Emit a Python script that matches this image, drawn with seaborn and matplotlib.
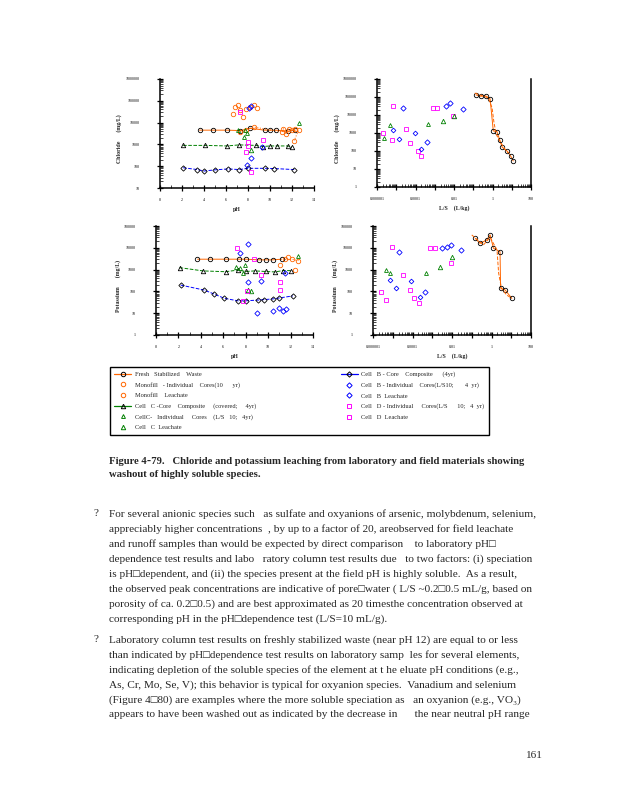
import numpy as np
import pandas as pd
import matplotlib
matplotlib.use("Agg")
import matplotlib.pyplot as plt
from matplotlib.lines import Line2D
from matplotlib.ticker import LogLocator, MultipleLocator, NullFormatter
import seaborn as sns

# ---------------- DATA ----------------
# Chloride vs pH
cl_fsw_ph = [3.6, 4.8, 6.1, 7.3, 8.2, 9.5, 10.0, 10.5, 11.6, 12.3]
cl_fsw = [4500, 4500, 4500, 4300, 5500, 4500, 4500, 4500, 4000, 4500]
cl_mono_cores_ph = [6.6, 6.85, 7.1, 7.3, 7.5, 7.8, 8.2, 8.55, 8.8]
cl_mono_cores = [26000, 50000, 63000, 37000, 18000, 40000, 50000, 63000, 45000]
cl_mono_leach_ph = [7.3, 7.8, 8.5, 11.06, 11.2, 11.45, 11.7, 12.0, 12.3, 12.6, 12.2]
cl_mono_leach = [3700, 4500, 6300, 3700, 5300, 3100, 5300, 4500, 5300, 4500, 1500]
cl_cC_comp_ph = [2.1, 4.1, 6.1, 7.2, 8.7, 9.4, 10.0, 10.6, 11.6, 12.0]
cl_cC_comp = [900, 900, 850, 950, 900, 800, 850, 850, 850, 750]
cl_cC_cores_ph = [7.06, 7.7, 7.9, 7.6, 12.6]
cl_cC_cores = [4500, 4800, 3300, 2300, 9600]
cl_cC_leach_ph = [8.3]
cl_cC_leach = [530]
cl_cB_comp_ph = [2.1, 3.4, 4.0, 5.0, 6.2, 7.2, 8.0, 9.5, 10.4, 12.2]
cl_cB_comp = [85, 70, 60, 68, 75, 70, 80, 80, 78, 70]
cl_cB_cores_ph = [8.1, 8.3, 9.3, 8.3]
cl_cB_cores = [49000, 56000, 760, 240]
cl_cB_leach_ph = [7.9]
cl_cB_leach = [115]
cl_cD_cores_ph = [7.3, 8.0, 8.0, 9.4, 7.8]
cl_cD_cores = [31000, 1300, 810, 1660, 450]
cl_cD_leach_ph = [8.3]
cl_cD_leach = [53]

# Chloride vs L/S
cl_fsw_ls = [0.14, 0.25, 0.45, 0.75, 1.1, 1.7, 2.4, 3.2, 6.0, 9.0, 12.0]
cl_fsw_v = [130000, 110000, 115000, 80000, 1300, 1200, 400, 160, 95, 50, 28]
cl_mono_ls = [0.12, 0.6, 0.95, 1.2, 1.6, 2.4, 4.6, 6.6]
cl_mono_v = [165000, 90000, 25000, 3600, 800, 350, 120, 77]
cl_cD_cores_ls = [6.8e-6, 3.2e-5, 8.3e-4, 1.35e-3, 8.5e-3]
cl_cD_cores_v = [30000, 1700, 25000, 25000, 8500]
cl_cD_leach_ls = [2e-6, 6.3e-6, 5e-5, 1.4e-4, 2e-4]
cl_cD_leach_v = [1000, 430, 280, 95, 50]
cl_cB_cores_ls = [2.3e-5, 3.8e-3, 6.2e-3, 0.031, 4.1e-4]
cl_cB_cores_v = [24500, 30000, 47000, 21500, 300]
cl_cB_leach_ls = [6.8e-6, 1.4e-5, 9.3e-5, 2.0e-4]
cl_cB_leach_v = [1540, 490, 1000, 130]
cl_cC_cores_ls = [4.6e-6, 2.2e-6, 4.5e-4]
cl_cC_cores_v = [2900, 530, 3300]
cl_cC_leach_ls = [2.6e-3, 0.01]
cl_cC_leach_v = [4500, 9100]

# Potassium vs pH
k_fsw_ph = [3.7, 4.8, 6.2, 7.4, 8.0, 9.2, 9.8, 10.4, 11.2]
k_fsw = [3000, 3000, 3000, 3000, 3000, 2800, 2800, 2800, 3000]
k_mono_cores_ph = [11.04, 11.8, 12.4]
k_mono_cores = [1620, 3650, 960]
k_mono_leach_ph = [11.5, 12.1, 12.7]
k_mono_leach = [2950, 3000, 2570]
k_cC_comp_ph = [2.1, 4.2, 6.2, 7.3, 8.0, 8.8, 9.8, 10.6, 11.3, 12.0]
k_cC_comp = [1230, 870, 800, 950, 820, 870, 820, 780, 900, 900]
k_cC_cores_ph = [7.1, 7.5, 7.8, 7.9, 12.7]
k_cC_cores = [1360, 1170, 720, 1620, 4000]
k_cC_leach_ph = [8.2, 8.5]
k_cC_leach = [116, 100]
k_cB_comp_ph = [2.2, 4.3, 5.2, 6.1, 7.3, 8.0, 9.1, 9.6, 10.4, 11.0, 12.2]
k_cB_comp = [195, 115, 75, 48, 37, 37, 40, 42, 45, 50, 62]
k_cB_cores_ph = [8.2, 7.5, 9.4, 9.0, 10.4, 11.0, 11.3, 11.6, 11.5]
k_cB_cores = [15000, 5600, 310, 10.5, 12, 17, 12, 15, 680]
k_cB_leach_ph = [8.2]
k_cB_leach = [280]
k_cD_cores_ph = [7.2, 8.1, 7.8, 9.4, 8.7]
k_cD_cores = [9500, 108, 37, 560, 2950]
k_cD_leach_ph = [11.1, 11.1]
k_cD_leach = [280, 116]

# Potassium vs L/S
k_fsw_ls = [0.15, 0.26, 0.58, 0.85, 1.26, 2.7, 2.9, 4.9, 10.7]
k_fsw_v = [27000, 16000, 23000, 39000, 9500, 6600, 140, 116, 48]
k_mono_ls = [0.1, 0.39, 0.85, 1.9, 2.3, 3.2, 5.9, 10.7]
k_mono_v = [39000, 13500, 30000, 8000, 680, 138, 68, 48]
k_cD_cores_ls = [3.4e-5, 7.6e-4, 1.4e-3, 8.5e-3]
k_cD_cores_v = [560, 9500, 9500, 1950]
k_cD_leach_ls = [9.5e-6, 2.5e-6, 4.8e-6, 7.3e-5, 1.2e-4, 2.2e-4]
k_cD_leach_v = [11000, 98, 40, 115, 48, 28]
k_cB_cores_ls = [2.1e-5, 3e-3, 5.4e-3, 8.5e-3, 0.028, 4.3e-4]
k_cB_cores_v = [6300, 9500, 11000, 13500, 7900, 98]
k_cB_leach_ls = [7e-6, 1.4e-5, 8e-5, 2.3e-4]
k_cB_leach_v = [330, 140, 310, 54]
k_cC_cores_ls = [4.8e-6, 7e-6, 4.8e-4]
k_cC_cores_v = [1000, 680, 720]
k_cC_leach_ls = [2.5e-3, 9.5e-3]
k_cC_leach_v = [1350, 3600]

# Ticks
ph_ticks = [0, 2, 4, 6, 8, 10, 12, 14]
ls_ticks = [1e-6, 1e-5, 1e-4, 1e-3, 1e-2, 1e-1, 1, 10, 100]
ls_ticklabels = ["0.000001", "", "0.0001", "", "0.01", "", "1", "", "100"]
cl_ticks_l = [10, 100, 1000, 10000, 100000, 1000000]
cl_ticks_r = [1, 10, 100, 1000, 10000, 100000, 1000000]
k_ticks = [1, 10, 100, 1000, 10000, 100000]

legend_labels = [
    "Fresh   Stabilized    Waste",
    "Monofill   - Individual    Cores(10      yr)",
    "Monofill    Leachate",
    "Cell   C -Core    Composite     (covered;     4yr)",
    "CellC-   Individual     Cores    (L/S   10;   4yr)",
    "Cell   C  Leachate",
    "Cell   B - Core    Composite      (4yr)",
    "Cell   B - Individual    Cores(L/S10;       4  yr)",
    "Cell   B  Leachate",
    "Cell   D - Individual     Cores(L/S      10;   4  yr)",
    "Cell   D  Leachate",
]

body1 = [
    "For several anionic species such   as sulfate and oxyanions of arsenic, molybdenum, selenium,",
    "appreciably higher concentrations  , by up to a factor of 20, areobserved for field leachate",
    "and runoff samples than would be expected by direct comparison    to laboratory pH\u25a1",
    "dependence test results and labo   ratory column test results due   to two factors: (i) speciation",
    "is pH\u25a1dependent, and (ii) the species present at the field pH is highly soluble.  As a result,",
    "the observed peak concentrations are indicative of pore\u25a1water ( L/S ~0.2\u25a10.5 mL/g, based on",
    "porosity of ca. 0.2\u25a10.5) and are best approximated as 20 timesthe concentration observed at",
    "corresponding pH in the pH\u25a1dependence test (L/S=10 mL/g).",
]
body2 = [
    "Laboratory column test results on freshly stabilized waste (near pH 12) are equal to or less",
    "than indicated by pH\u25a1dependence test results on laboratory samp  les for several elements,",
    "indicating depletion of the soluble species of the element at t he eluate pH conditions (e.g.,",
    "As, Cr, Mo, Se, V); this behavior is typical for oxyanion species.  Vanadium and selenium",
    "(Figure 4\u25a180) are examples where the more soluble speciation as   an oxyanion (e.g., VO\u2083)",
    "appears to have been washed out as indicated by the decrease in      the near neutral pH range",
]
caption = ["Figure 4\u201179.   Chloride and potassium leaching from laboratory and field materials showing",
           "washout of highly soluble species."]

# ---------------- STYLE ----------------
sns.set_theme(style="ticks")
SERIF = ["Liberation Serif", "DejaVu Serif"]
plt.rcParams["font.family"] = SERIF

ORANGE = "#FF6600"
GREEN = "#008000"
BLUE = "#0000FF"
MAG = "#FF00FF"

W, H = 618, 800
fig = plt.figure(figsize=(6.18, 8.0), dpi=100)


def box(l, r, t, b):
    return [l / W, 1 - b / H, (r - l) / W, (b - t) / H]


def draw(ax, x, y, color, marker, ls="none", mec=None, ms=3.2, lw=0.7):
    sns.lineplot(x=x, y=y, ax=ax, color=color, marker=marker, linestyle=ls,
                 markerfacecolor="none", markeredgecolor=mec or color,
                 markersize=ms, markeredgewidth=0.6, linewidth=lw,
                 estimator=None, sort=False, legend=False)


def style_axes(ax, right_spine=False):
    ax.spines["top"].set_visible(False)
    ax.spines["right"].set_visible(right_spine)
    for s in ["left", "bottom", "right"]:
        ax.spines[s].set_linewidth(1.1)
        ax.spines[s].set_color("black")
    ax.tick_params(which="major", direction="inout", length=4, width=0.9,
                   labelsize=2.9, colors="black")
    ax.tick_params(which="minor", direction="in", length=2, width=0.6)
    ax.tick_params(axis="y", pad=13)
    ax.tick_params(axis="x", pad=5)
    ax.grid(False)


def ph_axes(pos, yticks):
    ax = fig.add_axes(pos)
    ax.set_yscale("log")
    ax.set_xlim(0, 14)
    ax.set_ylim(yticks[0], yticks[-1])
    ax.set_xticks(ph_ticks)
    ax.set_xticklabels([str(t) for t in ph_ticks])
    ax.xaxis.set_minor_locator(MultipleLocator(1))
    ax.set_yticks(yticks)
    ax.set_yticklabels([str(t) for t in yticks])
    ax.yaxis.set_minor_locator(LogLocator(base=10, subs=np.arange(2, 10)))
    ax.yaxis.set_minor_formatter(NullFormatter())
    style_axes(ax)
    return ax


def ls_axes(pos, yticks):
    ax = fig.add_axes(pos)
    ax.set_xscale("log")
    ax.set_yscale("log")
    ax.set_xlim(1e-6, 100)
    ax.set_ylim(yticks[0], yticks[-1])
    ax.set_xticks(ls_ticks)
    ax.set_xticklabels(ls_ticklabels)
    ax.xaxis.set_minor_locator(LogLocator(base=10, subs=np.arange(2, 10)))
    ax.xaxis.set_minor_formatter(NullFormatter())
    ax.set_yticks(yticks)
    ax.set_yticklabels([str(t) for t in yticks])
    ax.yaxis.set_minor_locator(LogLocator(base=10, subs=np.arange(2, 10)))
    ax.yaxis.set_minor_formatter(NullFormatter())
    style_axes(ax, right_spine=True)
    ax.tick_params(axis="y", which="both", right=False)
    return ax


def labels(ax, xlabel, ylabel, xl_y, yl_x):
    ax.set_xlabel(xlabel, fontsize=4.2, fontweight="bold")
    ax.set_ylabel(ylabel, fontsize=4.2, fontweight="bold")
    ax.xaxis.set_label_coords(0.5, xl_y)
    ax.yaxis.set_label_coords(yl_x, 0.45)


# ---------------- PANELS ----------------
ax1 = ph_axes(box(160, 314, 79, 188), cl_ticks_l)
draw(ax1, cl_fsw_ph, cl_fsw, ORANGE, "o", ls="-", mec="black")
draw(ax1, cl_mono_cores_ph, cl_mono_cores, ORANGE, "o")
draw(ax1, cl_mono_leach_ph, cl_mono_leach, ORANGE, "o", ls=":")
draw(ax1, cl_cC_comp_ph, cl_cC_comp, GREEN, "^", ls="--", mec="black")
draw(ax1, cl_cC_cores_ph, cl_cC_cores, GREEN, "^", ms=2.8)
draw(ax1, cl_cC_leach_ph, cl_cC_leach, GREEN, "^")
draw(ax1, cl_cB_comp_ph, cl_cB_comp, BLUE, "D", ls="--", mec="black", ms=2.7)
draw(ax1, cl_cB_cores_ph, cl_cB_cores, BLUE, "D", ms=2.7)
draw(ax1, cl_cB_leach_ph, cl_cB_leach, BLUE, "D", ms=2.7)
draw(ax1, cl_cD_cores_ph, cl_cD_cores, MAG, "s")
draw(ax1, cl_cD_leach_ph, cl_cD_leach, MAG, "s")
labels(ax1, "pH", "Chloride      (mg/L)", -0.17, -0.25)

ax2 = ls_axes(box(377, 531, 79, 187), cl_ticks_r)
draw(ax2, cl_fsw_ls, cl_fsw_v, ORANGE, "o", ls="-", mec="black")
draw(ax2, cl_mono_ls, cl_mono_v, ORANGE, "none", ls="--")
draw(ax2, cl_cD_cores_ls, cl_cD_cores_v, MAG, "s")
draw(ax2, cl_cD_leach_ls, cl_cD_leach_v, MAG, "s", ms=2.7)
draw(ax2, cl_cB_cores_ls, cl_cB_cores_v, BLUE, "D", ms=2.7)
draw(ax2, cl_cB_leach_ls, cl_cB_leach_v, BLUE, "D", ms=2.4)
draw(ax2, cl_cC_cores_ls, cl_cC_cores_v, GREEN, "^", ms=2.8)
draw(ax2, cl_cC_leach_ls, cl_cC_leach_v, GREEN, "^")
labels(ax2, "L/S    (L/kg)", "Chloride      (mg/L)", -0.17, -0.24)

ax3 = ph_axes(box(156, 313, 226, 335), k_ticks)
draw(ax3, k_fsw_ph, k_fsw, ORANGE, "o", ls="-", mec="black")
draw(ax3, k_mono_cores_ph, k_mono_cores, ORANGE, "o")
draw(ax3, k_mono_leach_ph, k_mono_leach, ORANGE, "o", ls=":")
draw(ax3, k_cC_comp_ph, k_cC_comp, GREEN, "^", ls="--", mec="black")
draw(ax3, k_cC_cores_ph, k_cC_cores, GREEN, "^", ms=2.8)
draw(ax3, k_cC_leach_ph, k_cC_leach, GREEN, "^")
draw(ax3, k_cB_comp_ph, k_cB_comp, BLUE, "D", ls="--", mec="black", ms=2.7)
draw(ax3, k_cB_cores_ph, k_cB_cores, BLUE, "D", ms=2.7)
draw(ax3, k_cB_leach_ph, k_cB_leach, BLUE, "D", ms=2.7)
draw(ax3, k_cD_cores_ph, k_cD_cores, MAG, "s")
draw(ax3, k_cD_leach_ph, k_cD_leach, MAG, "s", ms=2.7)
labels(ax3, "pH", "Potassium      (mg/L)", -0.17, -0.22)

ax4 = ls_axes(box(373, 531, 226, 335), k_ticks)
draw(ax4, k_fsw_ls, k_fsw_v, ORANGE, "o", ls="-", mec="black")
draw(ax4, k_mono_ls, k_mono_v, ORANGE, "none", ls="--")
draw(ax4, k_cD_cores_ls, k_cD_cores_v, MAG, "s")
draw(ax4, k_cD_leach_ls, k_cD_leach_v, MAG, "s", ms=2.7)
draw(ax4, k_cB_cores_ls, k_cB_cores_v, BLUE, "D", ms=2.7)
draw(ax4, k_cB_leach_ls, k_cB_leach_v, BLUE, "D", ms=2.4)
draw(ax4, k_cC_cores_ls, k_cC_cores_v, GREEN, "^", ms=2.8)
draw(ax4, k_cC_leach_ls, k_cC_leach_v, GREEN, "^")
labels(ax4, "L/S    (L/kg)", "Potassium      (mg/L)", -0.17, -0.22)

# ---------------- LEGEND ----------------
def h(color, marker, ls="none", mec=None, ms=3.2):
    return Line2D([], [], color=color, marker=marker, linestyle=ls, linewidth=0.9,
                  markerfacecolor="none", markeredgecolor=mec or color,
                  markersize=ms, markeredgewidth=0.7)

handles = [
    h(ORANGE, "o", "-", "black"),
    h(ORANGE, "o"),
    h(ORANGE, "o"),
    h(GREEN, "^", "-", "black"),
    h(GREEN, "^", ms=2.8),
    h(GREEN, "^"),
    h(BLUE, "D", "-", "black", ms=2.7),
    h(BLUE, "D", ms=2.7),
    h(BLUE, "D", ms=2.7),
    h(MAG, "s"),
    h(MAG, "s"),
]
leg = fig.legend(handles, legend_labels, ncol=2, loc="upper left",
                 bbox_to_anchor=(110 / W, 1 - 367 / H, 379 / W, 0), mode="expand",
                 frameon=True, fancybox=False, edgecolor="black", framealpha=1,
                 prop={"family": SERIF, "size": 4.6}, labelspacing=0.78,
                 handlelength=2.6, handletextpad=0.6, borderpad=0.7,
                 borderaxespad=0.0, columnspacing=1.0)
leg.get_frame().set_linewidth(1.0)

# ---------------- TEXT ----------------
y0 = 461
for i, line in enumerate(caption):
    fig.text(109 / W, 1 - (y0 + i * 13.5) / H, line, fontsize=7.7, fontweight="bold",
             va="center", ha="left", family=SERIF)

FS = 8.1
fig.text(93 / W, 1 - 514 / H, "?", fontsize=FS, va="center", family=SERIF)
for i, line in enumerate(body1):
    fig.text(109 / W, 1 - (514.5 + i * 15.0) / H, line, fontsize=FS, va="center",
             ha="left", family=SERIF)
fig.text(93 / W, 1 - 640 / H, "?", fontsize=FS, va="center", family=SERIF)
for i, line in enumerate(body2):
    fig.text(109 / W, 1 - (640.5 + i * 14.8) / H, line, fontsize=FS, va="center",
             ha="left", family=SERIF)
fig.text(542 / W, 1 - 756 / H, "161", fontsize=FS, va="center", ha="right", family=SERIF)

fig.savefig("out.png", dpi=100)
